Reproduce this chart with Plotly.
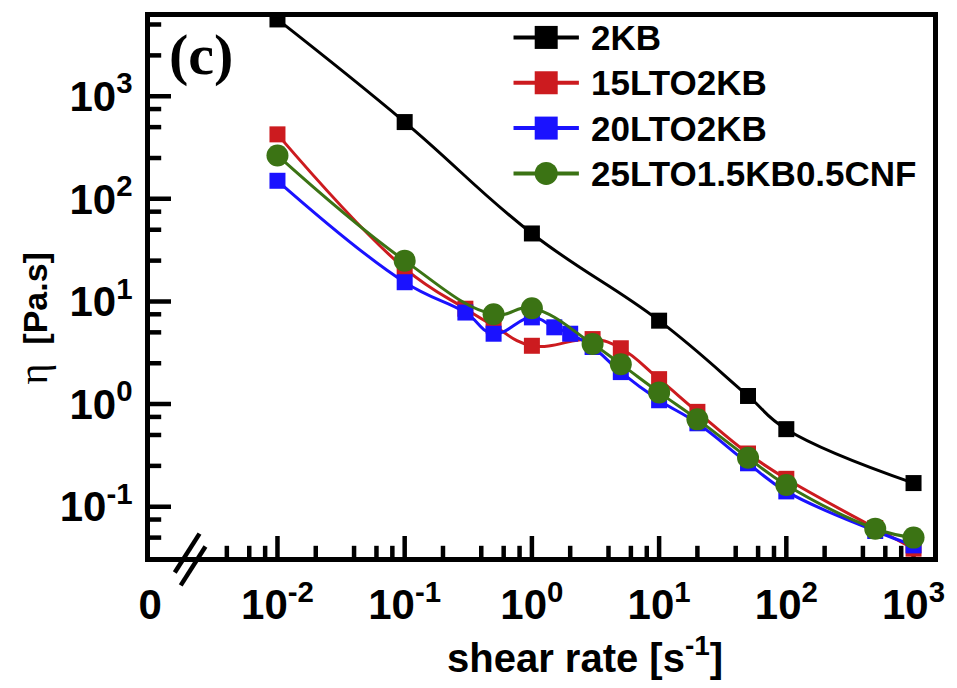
import plotly.graph_objects as go

# Shear-rate sweeps (s^-1) and viscosities (Pa.s) for each slurry
names = ["2KB", "15LTO2KB", "20LTO2KB", "25LTO1.5KB0.5CNF"]
colors = ["#000000", "#cc1b1f", "#1a12ff", "#3b7314"]
symbols = ["square", "square", "square", "circle"]

rate_2kb = [0.01, 0.1, 1, 10, 50, 100, 1000]
eta_2kb = [5600, 560, 46, 6.5, 1.2, 0.57, 0.17]

rate_15lto = [0.01, 0.1, 0.3, 0.5, 1, 3, 5, 10, 20, 50, 100, 500, 1000]
eta_15lto = [425, 21, 8.5, 5.8, 3.7, 4.3, 3.5, 1.75, 0.84, 0.33, 0.187, 0.062, 0.039]

rate_20lto = [0.01, 0.1, 0.3, 0.5, 1, 1.5, 2, 3, 5, 10, 20, 50, 100, 500, 1000]
eta_20lto = [150, 15.4, 7.8, 4.85, 7.0, 5.6, 4.85, 3.6, 2.05, 1.09, 0.65, 0.265, 0.141, 0.058, 0.042]

rate_25lto = [0.01, 0.1, 0.5, 1, 3, 5, 10, 20, 50, 100, 500, 1000]
eta_25lto = [265, 25, 7.5, 8.6, 3.85, 2.45, 1.3, 0.71, 0.30, 0.163, 0.061, 0.05]

rates = [rate_2kb, rate_15lto, rate_20lto, rate_25lto]
etas = [eta_2kb, eta_15lto, eta_20lto, eta_25lto]
marker_sizes = [16, 16, 16, 22]

# Axis ticks: log decades, the broken-axis origin labelled "0"
x_tickvals = [0.001, 0.01, 0.1, 1, 10, 100, 1000]
x_ticktext = ["0", "10<sup>-2</sup>", "10<sup>-1</sup>", "10<sup>0</sup>",
              "10<sup>1</sup>", "10<sup>2</sup>", "10<sup>3</sup>"]
x_minor = [m * 10.0 ** k for k in range(-3, 3) for m in (2, 4, 6, 8)
           if m * 10.0 ** k > 0.0025]
y_tickvals = [0.1, 1, 10, 100, 1000]
y_ticktext = ["10<sup>-1</sup>", "10<sup>0</sup>", "10<sup>1</sup>",
              "10<sup>2</sup>", "10<sup>3</sup>"]
y_minor = [m * 10.0 ** k for k in range(-2, 4) for m in (2.5, 5, 7.5)]

X_RANGE = [-3.002, 3.153]
Y_RANGE = [-1.490, 3.772]

FONT = "Liberation Sans, Arial, sans-serif"
SERIF = "Liberation Serif, Times New Roman, serif"

W, H = 957, 688
L, R, T, B = 150, 16.5, 15.5, 130.5
PW, PH = W - L - R, H - T - B


def px_x(px):
    return (px - L) / PW


def px_y(py):
    return (H - B - py) / PH


fig = go.Figure()

# Inward tick marks: line markers centred on the frame edge, half clipped away
x_edge = 10 ** X_RANGE[0]
y_edge = 10 ** Y_RANGE[0]
x_major_in = [v for v in x_tickvals if v > 0.005]
for vals, size in [(x_major_in, 30), (x_minor, 16)]:
    fig.add_trace(go.Scatter(
        x=vals, y=[y_edge] * len(vals), mode="markers", hoverinfo="skip",
        cliponaxis=True, showlegend=False,
        marker=dict(symbol="line-ns", size=size, color="black",
                    line=dict(color="black", width=4.5)),
    ))
for vals, size in [(y_tickvals, 30), (y_minor, 16)]:
    fig.add_trace(go.Scatter(
        x=[x_edge] * len(vals), y=vals, mode="markers", hoverinfo="skip",
        cliponaxis=True, showlegend=False,
        marker=dict(symbol="line-ew", size=size, color="black",
                    line=dict(color="black", width=4.5)),
    ))

for name, color, sym, xs, ys, ms in zip(names, colors, symbols, rates, etas, marker_sizes):
    fig.add_trace(go.Scatter(
        x=xs, y=ys, name=name, mode="lines+markers",
        line=dict(color=color, width=3, shape="spline", smoothing=1.2),
        marker=dict(symbol=sym, size=ms, color=color, line=dict(width=0)),
        showlegend=False,
    ))

axis_common = dict(
    type="log", showgrid=False, zeroline=False,
    showline=True, linecolor="black", linewidth=5, mirror=True,
    ticks="", tickmode="array",
    tickfont=dict(family=FONT, size=42, color="black", weight="bold"),
)

fig.update_xaxes(**axis_common, range=X_RANGE,
                 tickvals=x_tickvals, ticktext=x_ticktext, ticklabelstandoff=7)
fig.update_yaxes(**axis_common, range=Y_RANGE,
                 tickvals=y_tickvals, ticktext=y_ticktext, ticklabelstandoff=4)

annotations = [
    dict(text="shear rate [s<sup>-1</sup>]", x=px_x(589), y=px_y(656),
         xanchor="center", yanchor="middle",
         font=dict(family=FONT, size=40, color="black", weight="bold")),
    dict(text='<span style="font-family:Liberation Serif;font-weight:normal;font-size:40px">η</span>  [Pa.s]',
         x=px_x(32), y=px_y(318), textangle=-90,
         xanchor="center", yanchor="middle",
         font=dict(family=FONT, size=34, color="black", weight="bold")),
    dict(text="(c)", x=px_x(201), y=px_y(53),
         xanchor="center", yanchor="middle",
         font=dict(family=SERIF, size=58, color="black", weight="bold")),
]

shapes = []
# Axis break marks on the x axis
for (x0, y0, x1, y1) in [(175, 573, 200, 534), (181, 586, 206, 547)]:
    shapes.append(dict(type="line", xref="paper", yref="paper",
                       x0=px_x(x0), y0=px_y(y0), x1=px_x(x1), y1=px_y(y1),
                       line=dict(color="black", width=4.5), layer="above"))

# Legend drawn in the upper right of the plot area
row_y = [36, 81.5, 127, 172.5]
for name, color, sym, ry in zip(names, colors, symbols, row_y):
    shapes.append(dict(type="line", xref="paper", yref="paper",
                       x0=px_x(517), x1=px_x(583), y0=px_y(ry), y1=px_y(ry),
                       line=dict(color=color, width=4)))
    half = 11.5
    shapes.append(dict(type="circle" if sym == "circle" else "rect",
                       xref="paper", yref="paper",
                       xsizemode="pixel", ysizemode="pixel",
                       xanchor=px_x(550), yanchor=px_y(ry),
                       x0=-half, x1=half, y0=-half, y1=half,
                       fillcolor=color, line=dict(width=0)))
    annotations.append(dict(text=name, x=px_x(593), y=px_y(ry),
                            xanchor="left", yanchor="middle",
                            font=dict(family=FONT, size=35, color="black", weight="bold")))

for a in annotations:
    a.setdefault("xref", "paper")
    a.setdefault("yref", "paper")
    a.setdefault("showarrow", False)

fig.update_layout(
    width=W, height=H,
    margin=dict(l=L, r=R, t=T, b=B, pad=0),
    paper_bgcolor="white", plot_bgcolor="white",
    font=dict(family=FONT, color="black"),
    annotations=annotations, shapes=shapes,
    showlegend=False,
)

fig.write_html("out.html")
